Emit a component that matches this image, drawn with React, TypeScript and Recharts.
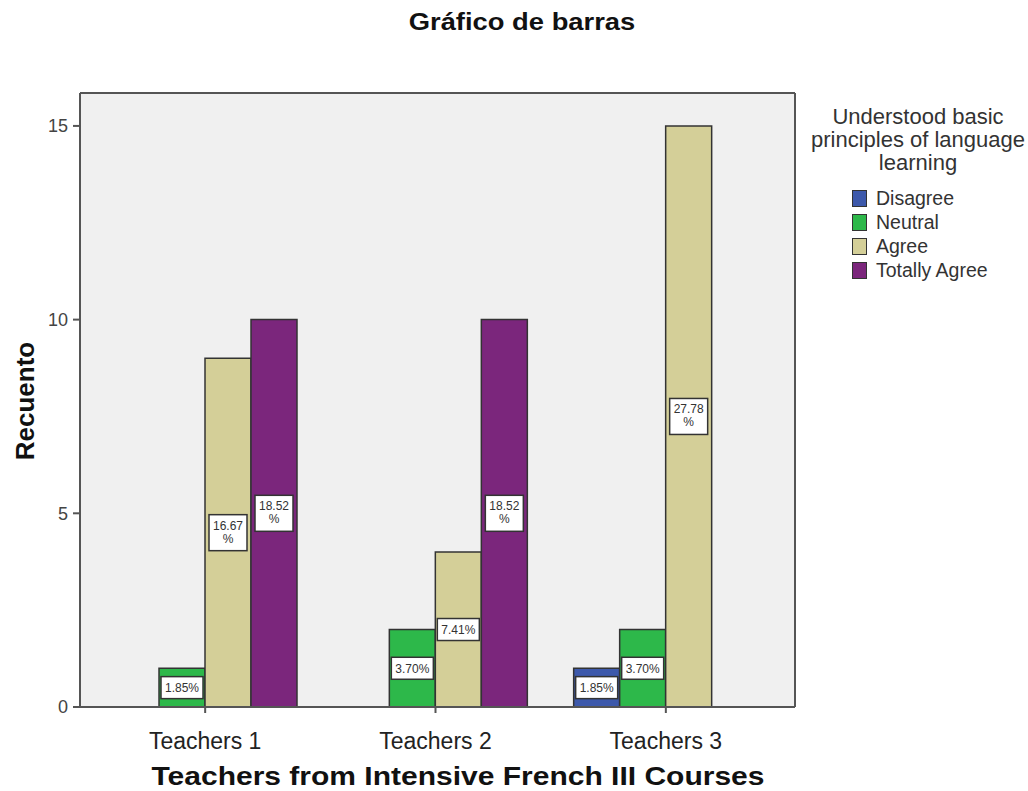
import React from "react";
import {
  BarChart,
  Bar,
  XAxis,
  YAxis,
  CartesianGrid,
  Legend,
  LabelList,
} from "recharts";

const categories = ["Teachers 1", "Teachers 2", "Teachers 3"];
const disagree = [0, 0, 1];
const neutral = [1, 2, 2];
const agree = [9, 4, 15];
const totallyAgree = [10, 10, 0];
const yTicks = [0, 5, 10, 15];

const FONT = '"Liberation Sans", Arial, sans-serif';

const series = [
  { key: "disagree", name: "Disagree", color: "#3d59ab" },
  { key: "neutral", name: "Neutral", color: "#2db84a" },
  { key: "agree", name: "Agree", color: "#d4cf98" },
  { key: "totallyAgree", name: "Totally Agree", color: "#7b267c" },
];

const data = categories.map((name, i) => ({
  name,
  disagree: disagree[i],
  neutral: neutral[i],
  agree: agree[i],
  totallyAgree: totallyAgree[i],
}));

const total = [...disagree, ...neutral, ...agree, ...totallyAgree].reduce(
  (a, b) => a + b,
  0
);

// white percentage box in the middle of each bar
function PctLabel(props: any) {
  const { x, y, width, height, value } = props;
  if (!value) return null;
  const pct = ((value / total) * 100).toFixed(2);
  const cx = x + width / 2;
  const cy = y + height / 2;
  const twoLines = pct.length > 4;
  const w = twoLines ? width - 8 : width - 4;
  const h = twoLines ? 36 : 22;
  return (
    <g>
      <rect
        x={cx - w / 2}
        y={cy - h / 2}
        width={w}
        height={h}
        fill="#fff"
        stroke="#333"
        strokeWidth={1.5}
      />
      {twoLines ? (
        <text
          x={cx}
          y={cy}
          textAnchor="middle"
          fontSize={12}
          fill="#333"
          fontFamily={FONT}
        >
          <tspan x={cx} dy={-3}>
            {pct}
          </tspan>
          <tspan x={cx} dy={13}>
            %
          </tspan>
        </text>
      ) : (
        <text
          x={cx}
          y={cy + 4.5}
          textAnchor="middle"
          fontSize={12}
          fill="#333"
          fontFamily={FONT}
        >
          {pct}%
        </text>
      )}
    </g>
  );
}

// legend keeps the series order, not alphabetical
function LegendBox() {
  return (
    <div style={{ fontFamily: FONT, color: "#333" }}>
      <div
        style={{
          width: 228,
          textAlign: "center",
          fontSize: 22,
          lineHeight: "23px",
        }}
      >
        Understood basic principles of language learning
      </div>
      <div style={{ marginTop: 12, marginLeft: 48 }}>
        {series.map((s) => (
          <div
            key={s.key}
            style={{
              display: "flex",
              alignItems: "center",
              height: 24,
              fontSize: 19.5,
            }}
          >
            <span
              style={{
                display: "inline-block",
                width: 13,
                height: 15,
                background: s.color,
                border: "1.5px solid #333",
                marginRight: 9,
              }}
            />
            {s.name}
          </div>
        ))}
      </div>
    </div>
  );
}

export default function App() {
  return (
    <div
      style={{
        position: "absolute",
        top: 0,
        left: 0,
        width: 1028,
        height: 791,
        background: "#fff",
        fontFamily: FONT,
      }}
    >
      <BarChart
        width={1028}
        height={791}
        data={data}
        margin={{ top: 93, right: 233, bottom: 44, left: 30 }}
        barGap={0}
        barSize={46}
      >
        {/* grey plot background; top and right grid lines close the frame */}
        <CartesianGrid
          fill="#f0f0f0"
          stroke="#555"
          strokeWidth={2}
          horizontalCoordinatesGenerator={({ offset }: any) => [offset.top]}
          verticalCoordinatesGenerator={({ offset }: any) => [
            offset.left + offset.width,
          ]}
        />
        <XAxis
          dataKey="name"
          interval={0}
          height={40}
          padding={{ left: 10, right: 14 }}
          stroke="#555"
          strokeWidth={2}
          tickSize={6}
          tickMargin={20}
          tick={{ fontSize: 23, fill: "#222" }}
        />
        <YAxis
          type="number"
          domain={[0, 15.85]}
          ticks={yTicks}
          width={50}
          stroke="#555"
          strokeWidth={2}
          tickSize={7}
          tickMargin={5}
          tick={{ fontSize: 18, fill: "#444" }}
        />
        <Legend
          layout="vertical"
          align="center"
          verticalAlign="middle"
          content={<LegendBox />}
          wrapperStyle={{ position: "absolute", top: 105, left: 804, width: 228 }}
        />
        {series.map((s) => (
          <Bar
            key={s.key}
            dataKey={s.key}
            name={s.name}
            fill={s.color}
            stroke="#333"
            strokeWidth={1.5}
            isAnimationActive={false}
          >
            <LabelList dataKey={s.key} content={<PctLabel />} />
          </Bar>
        ))}
      </BarChart>

      <div
        style={{
          position: "absolute",
          top: 10,
          left: 322,
          width: 400,
          textAlign: "center",
          fontSize: 24,
          lineHeight: "24px",
          fontWeight: "bold",
          color: "#111",
          transform: "scaleX(1.14)",
        }}
      >
        Gráfico de barras
      </div>
      <div
        style={{
          position: "absolute",
          top: 764,
          left: 158,
          width: 600,
          textAlign: "center",
          fontSize: 25,
          lineHeight: "25px",
          fontWeight: "bold",
          color: "#111",
          transform: "scaleX(1.2)",
        }}
      >
        Teachers from Intensive French III Courses
      </div>
      <div
        style={{
          position: "absolute",
          top: 388,
          left: -75,
          width: 200,
          textAlign: "center",
          fontSize: 26,
          lineHeight: "26px",
          fontWeight: "bold",
          color: "#111",
          transform: "rotate(-90deg)",
        }}
      >
        Recuento
      </div>
    </div>
  );
}
